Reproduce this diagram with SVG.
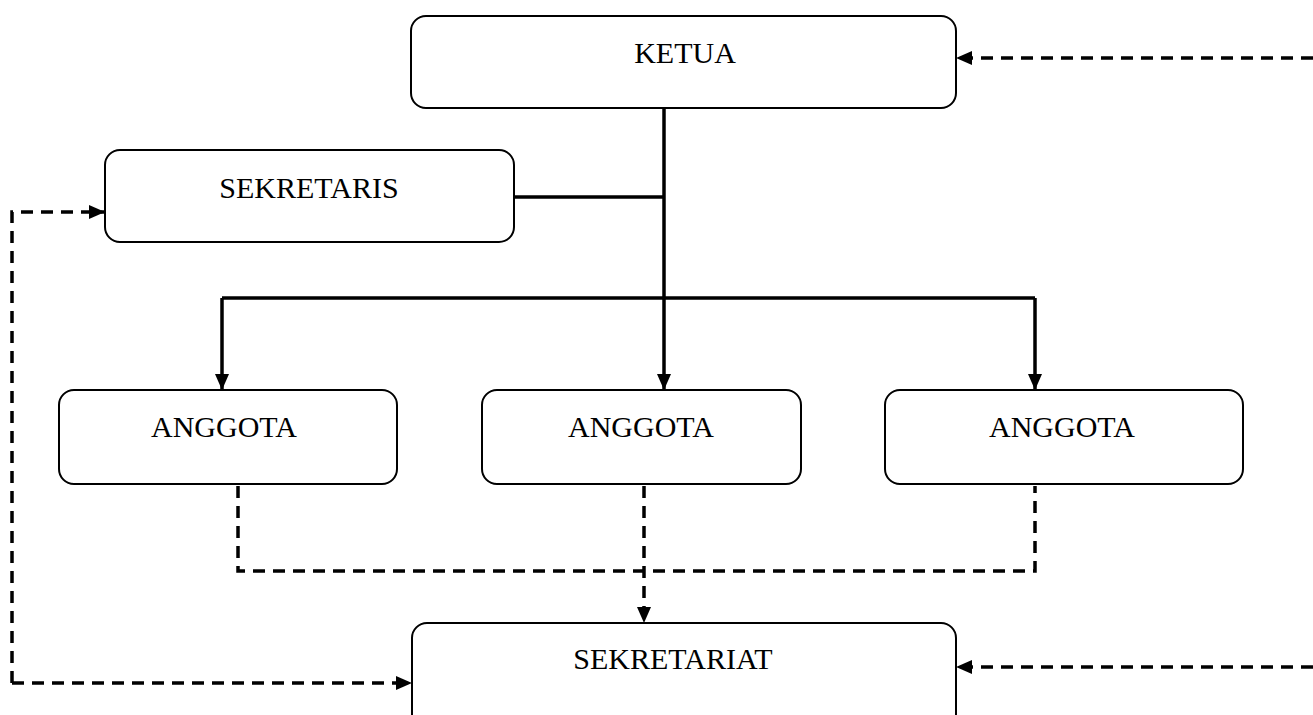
<svg xmlns="http://www.w3.org/2000/svg" width="1313" height="715" viewBox="0 0 1313 715">
<style>
.box{fill:#fff;stroke:#000;stroke-width:2}
.lbl{font-family:"Liberation Serif","Times New Roman",serif;font-size:30px;fill:#000;text-anchor:middle}
.solid{fill:none;stroke:#000;stroke-width:3.5}
.dash{fill:none;stroke:#000;stroke-width:3.5;stroke-dasharray:12 8}
</style>
<defs>
<marker id="ah" viewBox="0 0 16 14" refX="16" refY="7" markerWidth="16" markerHeight="14" markerUnits="userSpaceOnUse" orient="auto">
<path d="M0,0 L16,7 L0,14 Z" fill="#000"/>
</marker>
</defs>
<rect width="1313" height="715" fill="#fff"/>
<g id="connectors">
<path class="solid" d="M664,108 V298"/>
<path class="solid" d="M514,197 H664"/>
<path class="solid" d="M222,298 H1035"/>
<path class="solid" d="M222,298 V390" marker-end="url(#ah)"/>
<path class="solid" d="M664,298 V390" marker-end="url(#ah)"/>
<path class="solid" d="M1035,298 V390" marker-end="url(#ah)"/>
<path class="dash" d="M238,486 V571 H1035 V486"/>
<path class="dash" d="M644,486 V623" marker-end="url(#ah)"/>
<path class="dash" d="M12,683 V212 H105" marker-end="url(#ah)"/>
<path class="dash" d="M12,683 H412" marker-end="url(#ah)"/>
<path class="dash" d="M1313,58 H956" marker-end="url(#ah)"/>
<path class="dash" d="M1313,667 H956" marker-end="url(#ah)"/>
</g>
<g id="ketua">
<rect class="box" x="411" y="16" width="545" height="92" rx="15"/>
<text class="lbl" x="685" y="63">KETUA</text>
</g>
<g id="sekretaris">
<rect class="box" x="105" y="150" width="409" height="92" rx="15"/>
<text class="lbl" x="309" y="198">SEKRETARIS</text>
</g>
<g id="anggota1">
<rect class="box" x="59" y="390" width="338" height="94" rx="15"/>
<text class="lbl" x="224" y="437">ANGGOTA</text>
</g>
<g id="anggota2">
<rect class="box" x="482" y="390" width="319" height="94" rx="15"/>
<text class="lbl" x="641" y="437">ANGGOTA</text>
</g>
<g id="anggota3">
<rect class="box" x="885" y="390" width="358" height="94" rx="15"/>
<text class="lbl" x="1062" y="437">ANGGOTA</text>
</g>
<g id="sekretariat">
<rect class="box" x="412" y="623" width="544" height="110" rx="15"/>
<text class="lbl" x="673" y="669">SEKRETARIAT</text>
</g>
</svg>
